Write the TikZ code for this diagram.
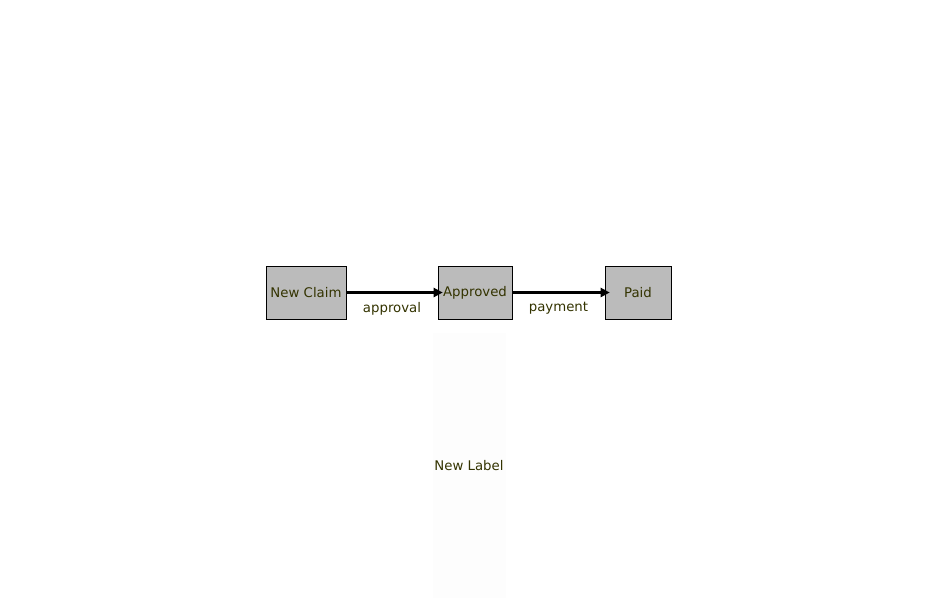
\documentclass[tikz,border=0pt]{standalone}
\usepackage{fontspec}
\setmainfont{DejaVu Sans}
\usepackage{xcolor}
\usetikzlibrary{arrows.meta,positioning}
\definecolor{statefill}{HTML}{BBBBBB}
\definecolor{textolive}{HTML}{333300}
\definecolor{lanefill}{HTML}{FDFDFD}

\begin{document}
\begin{tikzpicture}[
  x=1pt, y=-1pt,
  >={Triangle[length=9pt,width=9pt]},
  state/.style={rectangle, draw=black, fill=statefill, line width=0.6pt, minimum height=53pt, inner sep=0pt, text=textolive, font=\fontsize{13.3}{16}\selectfont},
  flow/.style={->, draw=black, line width=2.6pt, shorten >=-5pt},
  tag/.style={text=textolive, font=\fontsize{13.3}{16}\selectfont}
]
  \useasboundingbox (0,0) rectangle (937,598);
  \node[rectangle, fill=lanefill, minimum width=73pt, minimum height=265pt, inner sep=0pt] (lane) at (469.5,465.5) {};
  \node[tag] (lanelabel) at (469,466) {New Label};
  \node[state, minimum width=80pt] (claim) at (306,292.5) {New Claim};
  \node[state, minimum width=74pt] (approved) at (475,292.5) {Approved};
  \node[state, minimum width=66pt] (paid) at (638,292.5) {Paid};
  \draw[flow] (claim) -- node[tag, below=5pt] {approval} (approved);
  \draw[flow] (approved) -- node[tag, below=5pt] {payment} (paid);
\end{tikzpicture}
\end{document}
